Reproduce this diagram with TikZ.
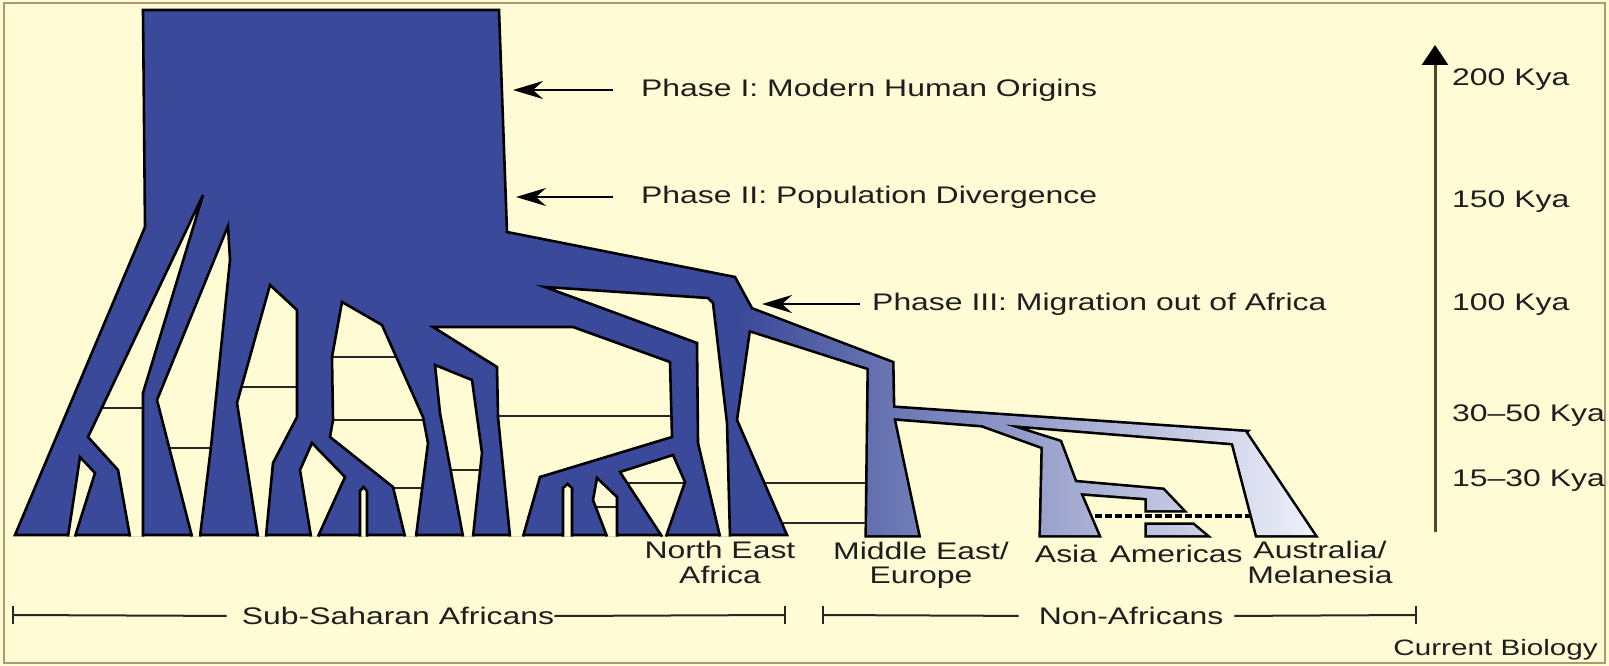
\documentclass[tikz,border=0pt]{standalone}
\usepackage{fontspec}
\setmainfont{Liberation Sans}
\usepackage{graphicx}
\usetikzlibrary{arrows.meta}
\definecolor{cream}{RGB}{255,251,213}
\definecolor{dkblue}{RGB}{58,73,153}
\definecolor{ltblue}{RGB}{238,241,250}
\definecolor{axolive}{RGB}{78,72,50}
\definecolor{frametan}{RGB}{170,155,110}
\definecolor{txt}{RGB}{30,30,30}
\newcommand\sx[1]{\scalebox{1.33}[1]{#1}}
\newcommand\lblfont{\fontsize{24}{24}\selectfont}
\newcommand\smlfont{\fontsize{22.3}{24}\selectfont}
\newcommand\gapn[1]{\fill[cream] #1 -- cycle; \draw[outl] #1;}
\newcommand\gapl[2]{\fill[cream] #1 -- cycle;
  \begin{scope}\clip #1 -- cycle; \foreach \yy in {#2}{\draw[gflow] (0,\yy) -- (1609,\yy);}\end{scope}
  \draw[outl] #1;}
\begin{document}
\begin{tikzpicture}[x=1pt,y=-1pt,
  outl/.style={draw=black, line width=2.6pt},
  gflow/.style={draw=black!85, line width=1.8pt},
  lab/.style={inner sep=0pt, font=\lblfont, text=txt},
  parrow/.style={draw=black, line width=2.2pt, -{Stealth[length=30pt,width=18pt,inset=10pt]}},
  brk/.style={draw=black!85, line width=2pt}]
\useasboundingbox (0,0) rectangle (1609,666);
\fill[cream] (0,0) rectangle (1609,666);
\draw[frametan, line width=2.5pt] (4,3) rectangle (1605,663);

% gene flow lines outside Africa
\draw[gflow] (750,483) -- (880,483);
\draw[gflow] (770,523) -- (880,523);
% dashed line Asia - Australia
\draw[black, line width=4pt, dash pattern=on 7pt off 3pt] (1085,516) -- (1262,516);

\def\oapath{(738,312) -- (753,310) -- (892,363) -- (893,417) -- (918,535) -- (867,535) -- (869,368) -- (750,330) -- (738,330) -- cycle
 (880,407) -- (1245,432) -- (1233,443) -- (1000,424) -- (982,425) -- (880,417) -- cycle
 (970,418) -- (1000,423) -- (1060,442) -- (1075,482) -- (1080,493) -- (1098,535) -- (1041,535) -- (1043,447) -- (982,425) -- (970,424) -- cycle
 (1072,482) -- (1163,490) -- (1182,510) -- (1147,510) -- (1147,498) -- (1080,493) -- cycle
 (1147,525) -- (1193,525) -- (1205,535) -- (1147,535) -- cycle
 (1225,432) -- (1245,432) -- (1314,535) -- (1257,535) -- (1233,443) -- (1225,441) -- cycle}

\draw[black, line width=5.2pt] \oapath;

% African tree silhouette
\filldraw[fill=dkblue, outl] (143,10) -- (499,10) -- (507,232) -- (735,277) -- (753,310) -- (750,330) -- (737,420) -- (787,535) -- (15,535) -- (145,227) -- cycle;

% gaps between branches
\gapn{(68,536.5) -- (80,457) -- (95,473) -- (75,536.5)}
\gapl{(130,536.5) -- (118,470) -- (88,437) -- (203,195) -- (143,393) -- (143,536.5)}{408}
\gapl{(192,536.5) -- (157,400) -- (228,226) -- (230,260) -- (211,447) -- (200,536.5)}{448}
\gapl{(258,536.5) -- (237,403) -- (270,285) -- (297,310) -- (297,417) -- (273,463) -- (266,536.5)}{387}
\gapn{(311,536.5) -- (300,470) -- (312,443) -- (345,477) -- (318,536.5)}
\gapl{(405,536.5) -- (393,487) -- (330,437) -- (333,420) -- (332,357) -- (342,302) -- (382,325) -- (423,417) -- (428,443) -- (416,536.5)}{357,420,488}
\gapn{(360,536.5) -- (360,491) -- (363.5,487) -- (367,491) -- (367,536.5)}
\gapl{(463,536.5) -- (440,413) -- (435,365) -- (472,380) -- (482,453) -- (473,536.5)}{470}
\gapl{(510,536.5) -- (498,417) -- (497,367) -- (433,327) -- (573,327) -- (670,362) -- (672,437) -- (540,477) -- (523,536.5)}{416}
\gapn{(563,536.5) -- (563,488) -- (567.5,484) -- (572,488) -- (572,536.5)}
\gapl{(607,536.5) -- (593,500) -- (597,478) -- (617,497) -- (617,536.5)}{507}
\gapl{(662,536.5) -- (620,472) -- (673,455) -- (685,482) -- (666,536.5)}{483}
\gapn{(720,536.5) -- (698,443) -- (697,343) -- (545,287) -- (708,298) -- (713,303) -- (727,423) -- (730,536.5)}

% non-African branches
\shade[left color=dkblue, right color=ltblue] \oapath;

% phase labels and arrows
\node[lab, anchor=west] (ph1) at (641,90) {\sx{Phase I: Modern Human Origins}};
\node[lab, anchor=west] (ph2) at (641,197) {\sx{Phase II: Population Divergence}};
\node[lab, anchor=west] (ph3) at (872,304) {\sx{Phase III: Migration out of Africa}};
\coordinate (t1) at (513,90);
\coordinate (t2) at (516,197);
\coordinate (t3) at (762,304);
\draw[parrow, shorten <=28pt] (ph1.west) -- (t1);
\draw[parrow, shorten <=28pt] (ph2.west) -- (t2);
\draw[parrow, shorten <=12pt] (ph3.west) -- (t3);

% time axis
\coordinate (axb) at (1435,532);
\coordinate (axt) at (1435,45);
\draw[axolive, line width=3pt, -{Triangle[length=20pt,width=26pt,color=black]}] (axb) -- (axt);
\node[lab, anchor=west] (k200) at (1452,80) {\sx{200 Kya}};
\node[lab, anchor=west] (k150) at (1452,202) {\sx{150 Kya}};
\node[lab, anchor=west] (k100) at (1452,305) {\sx{100 Kya}};
\node[lab, anchor=west] (k30) at (1452,416) {\sx{30--50 Kya}};
\node[lab, anchor=west] (k15) at (1452,481) {\sx{15--30 Kya}};

% population labels
\node[lab] (nea) at (720,566) {\sx{\begin{tabular}{@{}c@{}}North East\\Africa\end{tabular}}};
\node[lab] (mee) at (921,566) {\sx{\begin{tabular}{@{}c@{}}Middle East/\\Europe\end{tabular}}};
\node[lab] (asia) at (1066,554) {\sx{Asia}};
\node[lab] (amer) at (1176,554) {\sx{Americas}};
\node[lab] (aus) at (1320,566) {\sx{\begin{tabular}{@{}c@{}}Australia/\\Melanesia\end{tabular}}};

% group brackets
\node[lab] (ssa) at (398,616) {\sx{Sub-Saharan Africans}};
\node[lab] (naf) at (1131,616) {\sx{Non-Africans}};
\coordinate (b1) at (13,615);
\coordinate (b2) at (785,615);
\coordinate (b3) at (823,615);
\coordinate (b4) at (1416,615);
\draw[brk, shorten >=15pt] (b1) -- (ssa.west);
\draw[brk] (ssa.east) -- (b2);
\draw[brk, shorten >=20pt] (b3) -- (naf.west);
\draw[brk, shorten <=11pt] (naf.east) -- (b4);
\draw[brk] (b1) ++(0,-9) -- ++(0,18);
\draw[brk] (b2) ++(0,-9) -- ++(0,18);
\draw[brk] (b3) ++(0,-9) -- ++(0,18);
\draw[brk] (b4) ++(0,-9) -- ++(0,18);

\node[lab, font=\smlfont, anchor=east] (cb) at (1598,650) {\sx{Current Biology}};
\end{tikzpicture}
\end{document}
